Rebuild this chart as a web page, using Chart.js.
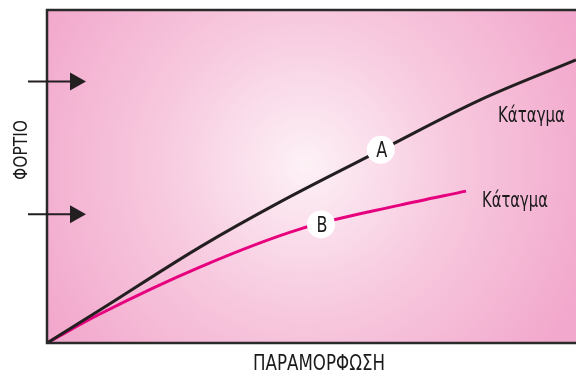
<!DOCTYPE html>
<html>
<head>
<meta charset="utf-8">
<script src="https://cdn.jsdelivr.net/npm/chart.js@4"></script>
<style>
  html, body { margin: 0; padding: 0; background: #fff; }
  #wrap { width: 576px; height: 373px; }
</style>
</head>
<body>
<div id="wrap"><canvas id="myChart"></canvas></div>
<script>
// curve A (black) and curve B (magenta) (0-100 units)
const curveAX = [0, 10.0, 28.9, 44.0, 63.1, 81.9, 100]
const curveAY = [0, 9.9, 28.8, 42.3, 57.9, 73.0, 85.0]
const curveBX = [0, 10.0, 28.9, 47.8, 66.7, 79.2]
const curveBY = [0, 8.7, 22.8, 34.2, 41.4, 45.6]

const markerLabels = ['A', 'B']
const markerX = [63.1, 51.8]
const markerY = [58.0, 35.6]

const arrowY = [78.5, 38.7]
const endLabel = 'Κάταγμα'
const xTitle = 'ΠΑΡΑΜΟΡΦΩΣΗ'
const yTitle = 'ΦΟΡΤΙΟ'

const toPoints = (xs, ys) => xs.map((x, i) => ({ x: x, y: ys[i] }))

const FONT = '"DejaVu Sans", sans-serif'

// draws text squeezed horizontally to a given width (the original uses a narrow face)
const narrowText = (ctx, text, x, y, size, width, align) => {
  ctx.save()
  ctx.font = size + 'px ' + FONT
  ctx.fontStretch = 'condensed'
  ctx.textBaseline = 'alphabetic'
  ctx.textAlign = 'left'
  const w = ctx.measureText(text).width
  const k = width / w
  let left = x
  if (align === 'center') left = x - width / 2
  ctx.translate(left, y)
  ctx.scale(k, 1)
  ctx.fillText(text, 0, 0)
  ctx.restore()
}

const decor = {
  id: 'decor',
  beforeDraw(chart) {
    const { ctx, chartArea: a } = chart
    const g = ctx.createRadialGradient(305, 165, 0, 305, 165, 300)
    g.addColorStop(0, '#fdf1f6')
    g.addColorStop(0.5, '#f7c8de')
    g.addColorStop(1, '#f2a8cc')
    ctx.save()
    ctx.fillStyle = g
    ctx.fillRect(a.left, a.top, a.right - a.left, a.bottom - a.top)
    ctx.restore()
  },
  afterDraw(chart) {
    const { ctx, chartArea: a, scales } = chart
    ctx.save()
    // frame: left, top, bottom
    ctx.strokeStyle = '#2b2a2a'
    ctx.lineWidth = 2.5
    ctx.beginPath()
    ctx.moveTo(a.right, a.top)
    ctx.lineTo(a.left, a.top)
    ctx.lineTo(a.left, a.bottom)
    ctx.lineTo(a.right, a.bottom)
    ctx.stroke()

    // arrows
    ctx.fillStyle = '#231f20'
    ctx.strokeStyle = '#231f20'
    ctx.lineWidth = 2
    arrowY.forEach(v => {
      const y = scales.y.getPixelForValue(v)
      ctx.beginPath()
      ctx.moveTo(28, y)
      ctx.lineTo(72, y)
      ctx.stroke()
      ctx.beginPath()
      ctx.moveTo(70, y - 9)
      ctx.lineTo(86, y)
      ctx.lineTo(70, y + 9)
      ctx.closePath()
      ctx.fill()
    })

    ctx.fillStyle = '#1a1a1a'
    // marker letters
    markerLabels.forEach((t, i) => {
      const px = scales.x.getPixelForValue(markerX[i])
      const py = scales.y.getPixelForValue(markerY[i])
      narrowText(ctx, t, px + 1, py + 7.5, 21, 11, 'center')
    })

    // end labels
    narrowText(ctx, endLabel, 498, 122, 21, 67)
    narrowText(ctx, endLabel, 482, 207, 21, 66)

    // axis titles
    narrowText(ctx, xTitle, 319, 370, 21, 132, 'center')
    ctx.translate(27, 150)
    ctx.rotate(-Math.PI / 2)
    narrowText(ctx, yTitle, 0, 0, 20, 60, 'center')
    ctx.restore()
  }
}

new Chart(document.getElementById('myChart'), {
  type: 'scatter',
  data: {
    datasets: [
      {
        label: 'A',
        data: toPoints(curveAX, curveAY),
        showLine: true,
        borderColor: '#231f20',
        borderWidth: 3,
        pointRadius: 0,
        cubicInterpolationMode: 'monotone'
      },
      {
        label: 'B',
        data: toPoints(curveBX, curveBY),
        showLine: true,
        borderColor: '#e6007e',
        borderWidth: 3,
        pointRadius: 0,
        cubicInterpolationMode: 'monotone'
      },
      {
        label: 'markers',
        data: toPoints(markerX, markerY),
        showLine: false,
        order: -1,
        pointRadius: 14,
        pointBackgroundColor: '#ffffff',
        pointBorderWidth: 0,
        borderColor: '#ffffff'
      }
    ]
  },
  options: {
    responsive: true,
    maintainAspectRatio: false,
    animation: false,
    layout: { autoPadding: false, padding: { left: 47, top: 10, right: 0, bottom: 30 } },
    plugins: { legend: { display: false }, tooltip: { enabled: false } },
    scales: {
      x: { type: 'linear', min: 0, max: 100, display: false },
      y: { type: 'linear', min: 0, max: 100, display: false }
    }
  },
  plugins: [decor]
})
</script>
</body>
</html>
